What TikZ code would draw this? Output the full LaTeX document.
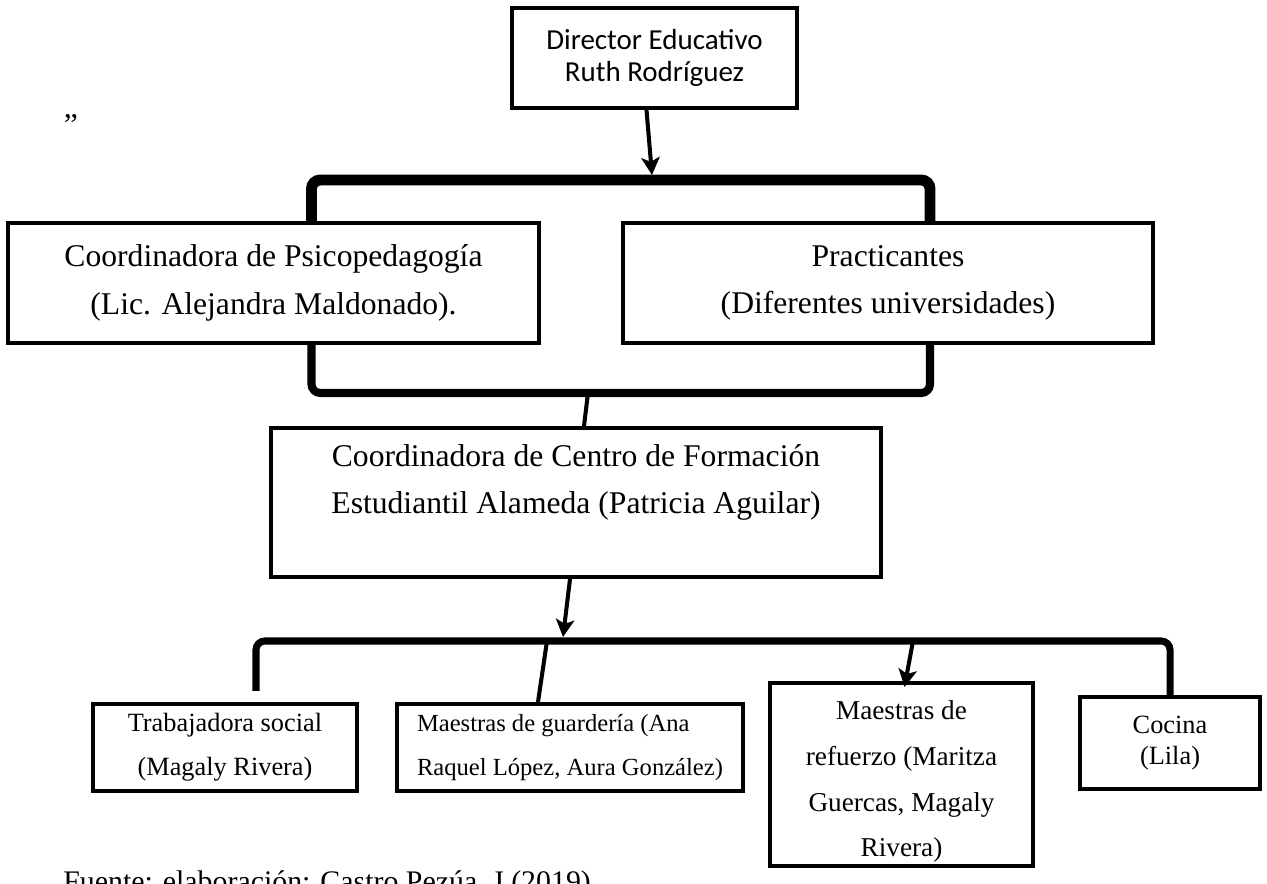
\documentclass[tikz,border=0pt]{standalone}
\usepackage{fontspec}
\setmainfont{Liberation Serif}
\newfontfamily\calibrifont{Carlito}
\usepackage{tikz}
\usetikzlibrary{arrows.meta}
\usetikzlibrary{calc}
\tikzset{
  main node/.style={rectangle,draw,line width=2.3pt,align=center,inner sep=0pt},
  big text/.style={font=\fontsize{18}{27}\selectfont},
  small text/.style={font=\fontsize{15}{25}\selectfont},
  link/.style={line width=2.3pt},
  top bar/.style={line width=6.2pt,rounded corners=5pt},
  mid bar/.style={line width=4.6pt,rounded corners=5pt},
  low bar/.style={line width=4pt,rounded corners=5pt}
}
\begin{document}
\begin{tikzpicture}[>={Stealth[length=10pt,width=10.5pt,inset=2.5pt]}, x=0.02cm, y=-0.02cm]
  \useasboundingbox (0,0) rectangle (1267,884);
  \node [anchor=base,inner sep=0pt,big text] (0) at (71,136) {”};
  \node [main node,font=\calibrifont\fontsize{16.5}{18.2}\selectfont,
         minimum width=5.7cm,minimum height=2cm] (1) at (654.5,58)
        {Director Educativo\\Ruth Rodríguez};
  \node [main node,big text,minimum width=10.62cm,minimum height=2.4cm] (2) at (273.5,283)
        {Coordinadora de Psicopedagogía\\(Lic. Alejandra Maldonado).};
  \node [main node,big text,minimum width=10.6cm,minimum height=2.4cm] (3) at (888,283)
        {Practicantes\\(Diferentes universidades)};
  \node [main node,big text,minimum width=12.2cm,minimum height=2.98cm] (4) at (576,502.5)
        {Coordinadora de Centro de Formación\\Estudiantil Alameda (Patricia Aguilar)\\ \mbox{}};
  \node [main node,small text,minimum width=5.28cm,minimum height=1.74cm] (5) at (225,747.5)
        {Trabajadora social\\(Magaly Rivera)};
  \node [main node,align=left,font=\fontsize{14}{25}\selectfont,
         minimum width=6.92cm,minimum height=1.74cm] (6) at (570,747.5)
        {Maestras de guardería (Ana\\Raquel López, Aura González)};
  \node [main node,font=\fontsize{15.5}{26}\selectfont,
         minimum width=5.26cm,minimum height=3.66cm] (7) at (901.5,774.5)
        {\rule{0pt}{19pt}Maestras de\\refuerzo (Maritza\\Guercas, Magaly\\Rivera)};
  \node [main node,font=\fontsize{15}{17.5}\selectfont,
         minimum width=3.6cm,minimum height=1.84cm] (8) at (1170,743)
        {Cocina\\(Lila)};
  \node [anchor=base west,inner sep=0pt,font=\fontsize{17}{20}\selectfont] (9) at (63,891)
        {Fuente: elaboración: Castro Pezúa, J (2019)};

  \coordinate (t1) at (652,180);
  \coordinate (t2) at (588,393);
  \coordinate (t3) at (563,641);

  \draw [top bar] ($(2.north)+(38,0)$) |- (t1) -| ($(3.north)+(42,0)$);
  \draw [link,->] ($(1.south)+(-8,0)$) -- ($(t1)+(0,-5)$);
  \draw [mid bar] ($(2.south)+(38,0)$) |- (t2) -| ($(3.south)+(42,0)$);
  \draw [link] (t2) -- ($(4.north)+(8,0)$);
  \draw [link,->] ($(4.south)+(-6,0)$) -- ($(t3)+(0,-4)$);
  \draw [low bar] ($(5.north)+(31,-11)$) |- (t3) -| (8.north);
  \draw [link] ($(t3)+(-16,0)$) -- ($(6.north)+(-32,0)$);
  \draw [link,->] ($(t3)+(350,0)$) -- ($(7.north)+(3,6)$);
\end{tikzpicture}
\end{document}
